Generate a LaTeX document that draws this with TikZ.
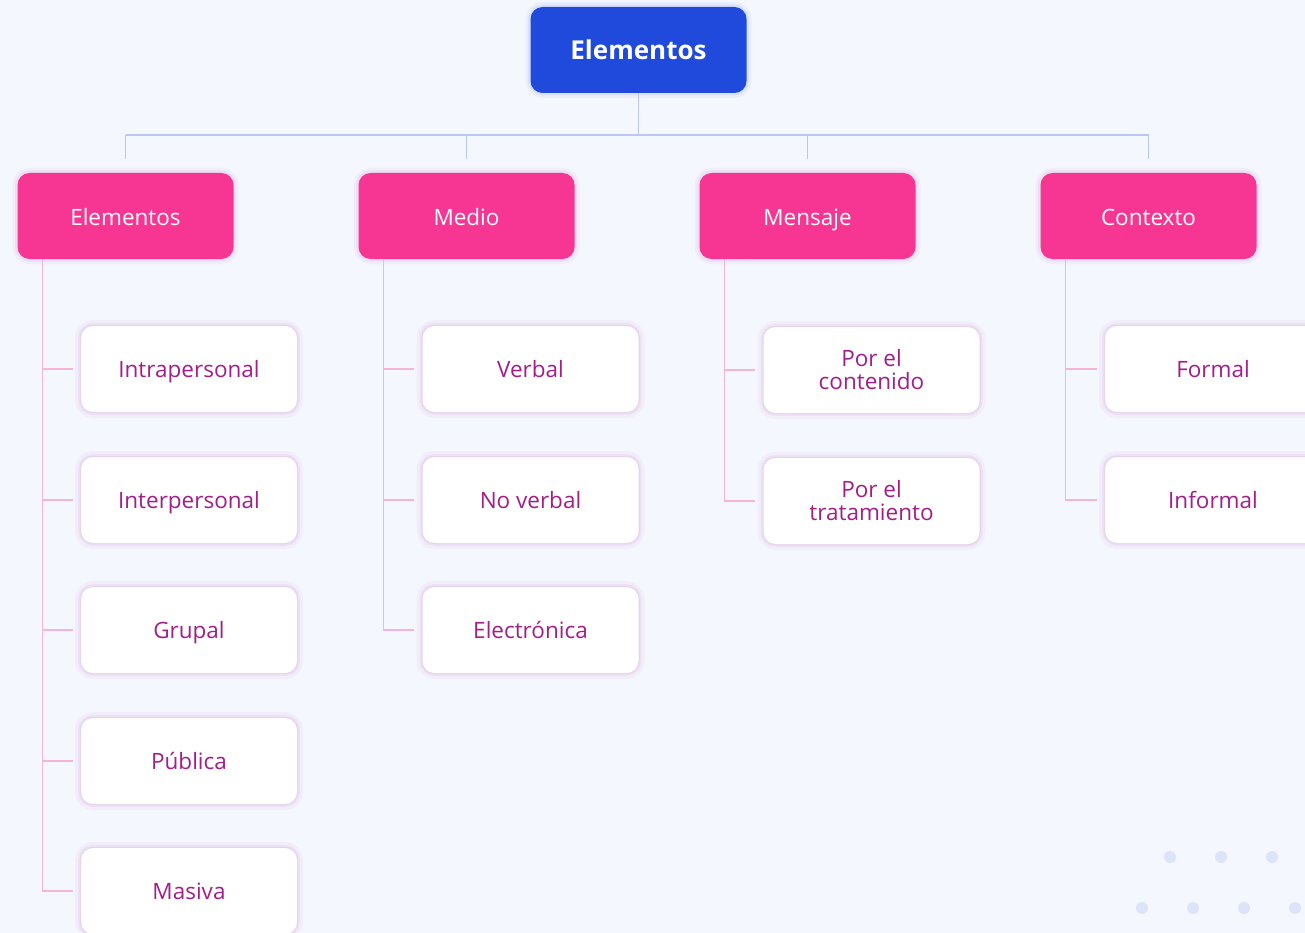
\documentclass[tikz,border=0pt]{standalone}
\usepackage{fontspec}
\setmainfont{Open Sans}
\definecolor{bg}{HTML}{F4F7FE}
\definecolor{rootblue}{HTML}{1F4ADB}
\definecolor{catpink}{HTML}{F73592}
\definecolor{childtext}{HTML}{A31E88}
\definecolor{blueline}{HTML}{B9C7F2}
\definecolor{pinkline}{HTML}{F5B5D8}
\definecolor{glow}{HTML}{D9A8DC}
\definecolor{bglow}{HTML}{8FA2E8}
\definecolor{dotc}{HTML}{DDE3F9}
\tikzset{
  basebox/.style={rounded corners=12pt, minimum width=216pt, minimum height=86pt, align=center, inner sep=0pt},
  oneline/.style={text height=20pt, text depth=3pt},
  rootbox/.style={basebox, text height=22pt, text depth=3pt, fill=rootblue, text=white, font=\fontsize{26}{30}\selectfont\bfseries,
    preaction={draw=bglow, line width=10pt, opacity=0.10},
    preaction={draw=bglow, line width=5pt, opacity=0.15}},
  catbox/.style={basebox, text height=21pt, text depth=2.5pt, fill=catpink, text=white, font=\fontsize{22.5}{25}\selectfont,
    preaction={draw=glow, line width=10pt, opacity=0.12},
    preaction={draw=glow, line width=5pt, opacity=0.18}},
  leafbox/.style={basebox, fill=white, text=childtext, font=\fontsize{22.5}{23}\selectfont,
    preaction={draw=glow, line width=12pt, opacity=0.10},
    preaction={draw=glow, line width=6pt, opacity=0.16},
    preaction={draw=glow, line width=2.5pt, opacity=0.25}},
  leafone/.style={leafbox, oneline},
  busline/.style={draw=blueline, line width=1.6pt},
  treeline/.style={draw=pinkline, line width=1.4pt},
  dotdeco/.style={fill=dotc}
}
\begin{document}
\begin{tikzpicture}[x=1pt,y=-1pt]
\useasboundingbox (0,0) rectangle (1305,933);
\fill[bg] (0,0) rectangle (1305,933);
\clip (0,0) rectangle (1305,933);

% decorative dots
\foreach \x in {1170,1221,1272} \fill[dotdeco] (\x,857) circle (6pt);
\foreach \x in {1142,1193,1244,1295} \fill[dotdeco] (\x,908) circle (6pt);

\coordinate (bus) at (0,135);

% root
\node[rootbox] (root) at (638.5,50) {Elementos};

% categories
\node[catbox] (c1) at (125.5,216) {Elementos};
\node[catbox] (c2) at (466.5,216) {Medio};
\node[catbox] (c3) at (807.5,216) {Mensaje};
\node[catbox] (c4) at (1148.5,216) {Contexto};

% leaves
\node[leafone] (l11) at (189,369) {Intrapersonal};
\node[leafone] (l12) at (189,500) {Interpersonal};
\node[leafone] (l13) at (189,630) {Grupal};
\node[leafone] (l14) at (189,761) {Pública};
\node[leafone] (l15) at (189,891) {Masiva};

\node[leafone] (l21) at (530.5,369) {Verbal};
\node[leafone] (l22) at (530.5,500) {No verbal};
\node[leafone] (l23) at (530.5,630) {Electrónica};

\node[leafbox] (l31) at (871.5,370) {Por el\\contenido};
\node[leafbox] (l32) at (871.5,501) {Por el\\tratamiento};

\node[leafone] (l41) at (1213,369) {Formal};
\node[leafone] (l42) at (1213,500) {Informal};

% bus connectors
\draw[busline] (root.south) -- (root.south |- bus);
\draw[busline] (c1.north |- bus) -- (c4.north |- bus);
\foreach \c in {c1,c2,c3,c4}
  \draw[busline] (\c.north |- bus) -- ([yshift=14pt]\c.north);

% tree lines
\foreach \c/\last/\leaves in {c1/l15/{l11,l12,l13,l14,l15}, c2/l23/{l21,l22,l23}, c3/l32/{l31,l32}, c4/l42/{l41,l42}} {
  \coordinate (sp) at ([xshift=25pt]\c.south west);
  \draw[treeline] (sp) -- (sp |- \last.west);
  \foreach \l in \leaves
    \draw[treeline] (sp |- \l.west) -- ([xshift=-8pt]\l.west);
}
\end{tikzpicture}
\end{document}
